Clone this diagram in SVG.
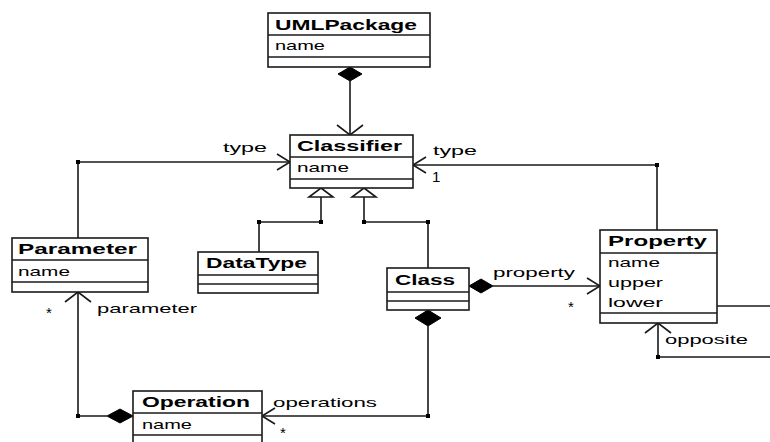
<svg xmlns="http://www.w3.org/2000/svg" width="770" height="442" viewBox="0 0 770 442">
<style>
.box{fill:#fff;stroke:#1a1a1a;stroke-width:1.6}
.div{stroke:#1a1a1a;stroke-width:1.6}
.hd{font-family:"Liberation Sans",Arial,sans-serif;font-weight:bold;font-size:14px;fill:#000}
.at{font-family:"Liberation Sans",Arial,sans-serif;font-size:13px;fill:#000}
.lb{font-family:"Liberation Sans",Arial,sans-serif;font-size:13px;fill:#000}
.mu{font-family:"Liberation Sans",Arial,sans-serif;font-size:15px;fill:#000}
.ln{fill:none;stroke:#1a1a1a;stroke-width:1.6}
.dia{fill:#000;stroke:#000;stroke-width:1}
.tri{fill:#fff;stroke:#1a1a1a;stroke-width:1.6}
.dot{fill:#000}
</style>
<rect width="770" height="442" fill="#fff"/>

<g id="connectors">
  <!-- UMLPackage -> Classifier -->
  <path class="ln" d="M350,81 V135"/>
  <path class="dia" d="M350,67 L362,74 L350,81 L338,74 Z"/>
  <path class="ln" d="M337,125 L350,135 L363,125"/>
  <!-- Parameter type -->
  <path class="ln" d="M78,238 V162 H290"/>
  <path class="ln" d="M277,154 L290,162 L277,170"/>
  <rect class="dot" x="76" y="160" width="4" height="4"/>
  <!-- Property type -->
  <path class="ln" d="M657,230 V165 H413"/>
  <path class="ln" d="M426,157 L413,165 L426,173"/>
  <rect class="dot" x="655" y="163" width="4" height="4"/>
  <!-- DataType generalization -->
  <path class="ln" d="M259,252 V222 H321 V197"/>
  <path class="tri" d="M321,188 L333,197 L309,197 Z"/>
  <rect class="dot" x="257" y="220" width="4" height="4"/>
  <rect class="dot" x="319" y="220" width="4" height="4"/>
  <!-- Class generalization -->
  <path class="ln" d="M428,268 V222 H364 V197"/>
  <path class="tri" d="M364,188 L376,197 L352,197 Z"/>
  <rect class="dot" x="362" y="220" width="4" height="4"/>
  <rect class="dot" x="426" y="220" width="4" height="4"/>
  <!-- Class -> Property -->
  <path class="dia" d="M469,286 L481,279 L493,286 L481,293 Z"/>
  <path class="ln" d="M493,286 H600"/>
  <path class="ln" d="M587,278 L600,286 L587,294"/>
  <!-- Class -> Operation -->
  <path class="dia" d="M428,310 L441,318 L428,326 L415,318 Z"/>
  <path class="ln" d="M428,326 V416 H262"/>
  <path class="ln" d="M275,408 L262,416 L275,424"/>
  <rect class="dot" x="426" y="414" width="4" height="4"/>
  <!-- Operation -> Parameter -->
  <path class="dia" d="M133,416 L120,409 L107,416 L120,423 Z"/>
  <path class="ln" d="M107,416 H78 V292"/>
  <path class="ln" d="M65,302 L78,292 L91,302"/>
  <rect class="dot" x="76" y="414" width="4" height="4"/>
  <!-- Property opposite -->
  <path class="ln" d="M717,306 H770"/>
  <path class="ln" d="M658,323 V357 H770"/>
  <path class="ln" d="M645,333 L658,323 L671,333"/>
  <rect class="dot" x="656" y="355" width="4" height="4"/>
  <!-- labels -->
  <text class="lb" x="223" y="152" textLength="44" lengthAdjust="spacingAndGlyphs">type</text>
  <text class="lb" x="433" y="155" textLength="44" lengthAdjust="spacingAndGlyphs">type</text>
  <text class="mu" x="432" y="182">1</text>
  <text class="lb" x="493" y="277" textLength="82" lengthAdjust="spacingAndGlyphs">property</text>
  <text class="mu" x="568" y="312">*</text>
  <text class="lb" x="97" y="313" textLength="100" lengthAdjust="spacingAndGlyphs">parameter</text>
  <text class="mu" x="46" y="318">*</text>
  <text class="lb" x="273" y="407" textLength="104" lengthAdjust="spacingAndGlyphs">operations</text>
  <text class="mu" x="280" y="438">*</text>
  <text class="lb" x="665" y="344" textLength="83" lengthAdjust="spacingAndGlyphs">opposite</text>
</g>

<g id="UMLPackage">
  <rect class="box" x="268" y="13" width="162" height="54"/>
  <line class="div" x1="268" y1="35" x2="430" y2="35"/>
  <line class="div" x1="268" y1="57" x2="430" y2="57"/>
  <text class="hd" x="275" y="30" textLength="142" lengthAdjust="spacingAndGlyphs">UMLPackage</text>
  <text class="at" x="275" y="50" textLength="50" lengthAdjust="spacingAndGlyphs">name</text>
</g>

<g id="Classifier">
  <rect class="box" x="290" y="135" width="123" height="53"/>
  <line class="div" x1="290" y1="157" x2="413" y2="157"/>
  <line class="div" x1="290" y1="179" x2="413" y2="179"/>
  <text class="hd" x="297" y="151" textLength="105" lengthAdjust="spacingAndGlyphs">Classifier</text>
  <text class="at" x="297" y="172" textLength="52" lengthAdjust="spacingAndGlyphs">name</text>
</g>

<g id="Parameter">
  <rect class="box" x="12" y="238" width="136" height="54"/>
  <line class="div" x1="12" y1="260" x2="148" y2="260"/>
  <line class="div" x1="12" y1="282" x2="148" y2="282"/>
  <text class="hd" x="18" y="254" textLength="119" lengthAdjust="spacingAndGlyphs">Parameter</text>
  <text class="at" x="18" y="276" textLength="52" lengthAdjust="spacingAndGlyphs">name</text>
</g>

<g id="DataType">
  <rect class="box" x="198" y="252" width="120" height="41"/>
  <line class="div" x1="198" y1="275" x2="318" y2="275"/>
  <line class="div" x1="198" y1="284" x2="318" y2="284"/>
  <text class="hd" x="206" y="268" textLength="101" lengthAdjust="spacingAndGlyphs">DataType</text>
</g>

<g id="Class">
  <rect class="box" x="387" y="268" width="82" height="42"/>
  <line class="div" x1="387" y1="292" x2="469" y2="292"/>
  <line class="div" x1="387" y1="301" x2="469" y2="301"/>
  <text class="hd" x="395" y="285" textLength="60" lengthAdjust="spacingAndGlyphs">Class</text>
</g>

<g id="Property">
  <rect class="box" x="600" y="230" width="117" height="93"/>
  <line class="div" x1="600" y1="253" x2="717" y2="253"/>
  <line class="div" x1="600" y1="313" x2="717" y2="313"/>
  <text class="hd" x="608" y="246" textLength="99" lengthAdjust="spacingAndGlyphs">Property</text>
  <text class="at" x="608" y="267" textLength="52" lengthAdjust="spacingAndGlyphs">name</text>
  <text class="at" x="608" y="287" textLength="55" lengthAdjust="spacingAndGlyphs">upper</text>
  <text class="at" x="608" y="307" textLength="55" lengthAdjust="spacingAndGlyphs">lower</text>
</g>

<g id="Operation">
  <rect class="box" x="133" y="391" width="129" height="56"/>
  <line class="div" x1="133" y1="413" x2="262" y2="413"/>
  <line class="div" x1="133" y1="435" x2="262" y2="435"/>
  <text class="hd" x="142" y="407" textLength="108" lengthAdjust="spacingAndGlyphs">Operation</text>
  <text class="at" x="142" y="429" textLength="50" lengthAdjust="spacingAndGlyphs">name</text>
</g>
</svg>
